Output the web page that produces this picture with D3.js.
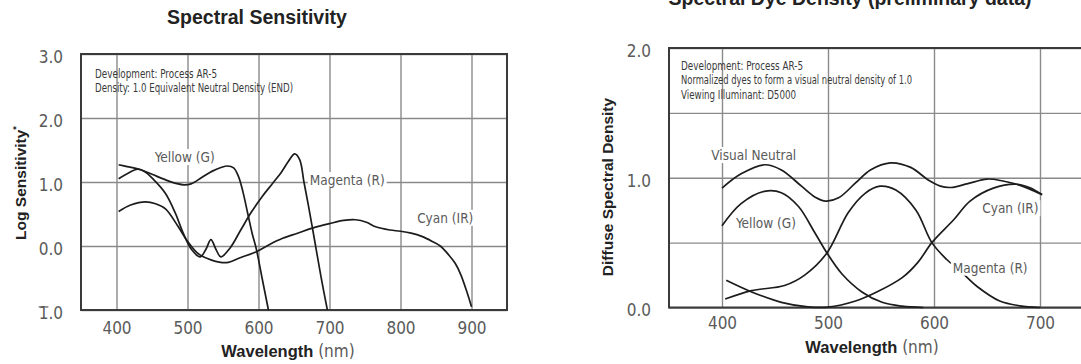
<!DOCTYPE html>
<html><head><meta charset="utf-8">
<script src="https://cdn.jsdelivr.net/npm/d3@7"></script>
<style>
body{margin:0;background:#fff;}
svg{display:block;}
</style></head><body>
<svg id="c" width="1081" height="364"></svg>
<script>
// ---------- DATA ----------
// Left: Spectral Sensitivity (log sensitivity vs wavelength nm)
const sensXTicks = [400, 500, 600, 700, 800, 900];
const sensYTicks = [-1, 0, 1, 2, 3];
const sensYellow = [[403,1.27],[415,1.24],[432,1.2],[450,1.12],[470,1.03],[485,0.975],[495,0.955],[505,0.97],[520,1.07],[535,1.17],[548,1.23],[556,1.25],[565,1.22],[572,1.08],[578,0.85],[585,0.5],[591,0.2],[597,-0.05],[605,-0.5],[614,-1.0]];
const sensMagenta = [[403,1.05],[415,1.13],[430,1.2],[440,1.16],[452,1.04],[469,0.82],[483,0.51],[494,0.2],[506,-0.06],[518,-0.17],[526,-0.05],[533,0.1],[540,-0.05],[547,-0.17],[560,-0.03],[575,0.25],[590,0.53],[605,0.77],[620,0.98],[632,1.15],[642,1.32],[651,1.44],[658,1.35],[664,1.0],[670,0.65],[679,0.09],[688,-0.48],[697,-1.0]];
const sensCyan = [[403,0.54],[420,0.64],[441,0.69],[455,0.66],[469,0.58],[487,0.3],[499,0.09],[515,-0.12],[534,-0.22],[555,-0.26],[575,-0.18],[597,-0.09],[615,0.02],[634,0.12],[655,0.2],[676,0.28],[700,0.35],[720,0.4],[737,0.41],[752,0.37],[765,0.3],[785,0.25],[800,0.23],[815,0.2],[830,0.15],[845,0.07],[856,0.0],[868,-0.14],[877,-0.27],[885,-0.45],[893,-0.7],[900,-0.95]];
const sensLabels = ["Yellow (G)", "Magenta (R)", "Cyan (IR)"];
const sensNotes = ["Development: Process AR-5", "Density: 1.0 Equivalent Neutral Density (END)"];

// Right: Spectral Dye Density (diffuse spectral density vs wavelength nm)
const dyeXTicks = [400, 500, 600, 700];
const dyeYTicks = [0, 0.5, 1, 1.5, 2];
const dyeNeutral = [[400,0.92],[418,1.03],[440,1.10],[456,1.06],[475,0.935],[488,0.85],[498,0.82],[510,0.845],[526,0.96],[540,1.06],[559,1.115],[578,1.08],[595,0.98],[606,0.935],[616,0.925],[632,0.955],[650,0.99],[665,0.975],[680,0.945],[702,0.87]];
const dyeYellow = [[400,0.63],[418,0.8],[440,0.895],[456,0.885],[472,0.78],[488,0.57],[499,0.42],[513,0.26],[532,0.12],[551,0.04],[570,0.01],[590,0.0]];
const dyeMagenta = [[403,0.065],[428,0.13],[459,0.17],[478,0.25],[499,0.42],[519,0.73],[535,0.88],[549,0.935],[564,0.905],[583,0.75],[598,0.5],[612,0.37],[625,0.28],[641,0.16],[662,0.05],[681,0.013],[700,0.0]];
const dyeCyan = [[404,0.21],[428,0.12],[456,0.04],[481,0.005],[500,0.003],[526,0.05],[545,0.115],[570,0.23],[585,0.35],[598,0.5],[619,0.68],[634,0.82],[656,0.92],[678,0.95],[690,0.925],[702,0.87]];
const dyeLabels = ["Visual Neutral", "Yellow (G)", "Cyan (IR)", "Magenta (R)"];
const dyeNotes = ["Development: Process AR-5", "Normalized dyes to form a visual neutral density of 1.0", "Viewing Illuminant: D5000"];

// ---------- DRAWING ----------
const svg = d3.select("#c");
const FC = '"Liberation Sans Narrow","DejaVu Sans Condensed","Roboto Condensed",sans-serif';
const FB = '"Liberation Sans",Arial,Helvetica,sans-serif';
const GRID = "#8a8a8a", FRAME = "#3a3a3a", INK = "#1c1c1c", LBL = "#5a5a5a";

function panel(o) {
  const g = svg.append("g");
  const [x0, x1] = o.x.range(), [y0, y1] = o.y.range();
  // vertical grid + x tick labels
  const ax = g.append("g").attr("transform", `translate(0,${y0})`)
    .call(d3.axisBottom(o.x).tickValues(o.xTicks).tickSize(-(y0 - y1)).tickPadding(o.xPad).tickFormat(d3.format("d")));
  ax.select(".domain").remove();
  ax.selectAll("line").attr("stroke", GRID).attr("stroke-width", 1.4);
  ax.selectAll("text").attr("fill", LBL).style("font-family", FC).style("font-size", "17px");
  // horizontal grid + y tick labels
  const ay = g.append("g").attr("transform", `translate(${x0},0)`)
    .call(d3.axisLeft(o.y).tickValues(o.yTicks).tickSize(-(x1 - x0)).tickPadding(18).tickFormat(o.yFmt));
  ay.select(".domain").remove();
  ay.selectAll("line").attr("stroke", GRID).attr("stroke-width", 1.4);
  ay.selectAll("text").attr("fill", LBL).style("font-family", FC).style("font-size", "17px")
    .attr("transform", "translate(0,3)");
  if (o.overlineNeg) {
    ay.selectAll(".tick").filter(d => d < 0).each(function() {
      const t = d3.select(this).select("text");
      const bb = t.node().getBBox();
      const w1 = t.node().getSubStringLength(0, 1);
      d3.select(this).append("line")
        .attr("x1", bb.x).attr("x2", bb.x + w1)
        .attr("y1", bb.y + 4).attr("y2", bb.y + 4)
        .attr("transform", "translate(0,3)")
        .attr("stroke", LBL).attr("stroke-width", 1.2);
    });
  }
  // frame
  g.append("rect").attr("x", x0).attr("y", y1).attr("width", x1 - x0).attr("height", y0 - y1)
    .attr("fill", "none").attr("stroke", FRAME).attr("stroke-width", 2);
  // curves
  const line = d3.line().x(d => o.x(d[0])).y(d => o.y(d[1])).curve(d3.curveCatmullRom.alpha(0.5));
  o.series.forEach(s => g.append("path").datum(s).attr("d", line)
    .attr("fill", "none").attr("stroke", INK).attr("stroke-width", 1.7).attr("stroke-linejoin", "round"));
  // series labels with white background
  o.labels.forEach((txt, i) => {
    const p = o.labelPos[i];
    const lg = g.append("g");
    const t = lg.append("text").attr("x", o.x(p[0])).attr("y", o.y(p[1]))
      .attr("text-anchor", "middle").attr("dominant-baseline", "central")
      .attr("fill", LBL).style("font-family", FC).style("font-size", "13.5px").text(txt);
    const bb = t.node().getBBox();
    lg.insert("rect", "text").attr("x", bb.x - 2).attr("y", bb.y).attr("width", bb.width + 4).attr("height", bb.height)
      .attr("fill", "#fff");
  });
  // notes
  o.notes.forEach((txt, i) => {
    g.append("text").attr("x", o.noteX).attr("y", o.noteY + i * 14.3)
      .attr("textLength", o.noteLen[i]).attr("lengthAdjust", "spacingAndGlyphs")
      .attr("fill", "#3a3a3a").style("font-family", FC).style("font-size", "11.5px").text(txt);
  });
  // title
  g.append("text").attr("x", o.titleX).attr("y", o.titleY).attr("text-anchor", "middle")
    .attr("fill", "#222").style("font-family", FB).style("font-weight", "bold").style("font-size", "19.5px")
    .text(o.title);
  // y axis title
  const yt = g.append("text").attr("transform", `translate(${o.ytX},${o.ytY}) rotate(-90)`)
    .attr("text-anchor", "middle").attr("dominant-baseline", "central")
    .attr("fill", "#222").style("font-family", FB).style("font-weight", "bold").style("font-size", "15.5px");
  yt.append("tspan").text(o.ytitle);
  if (o.ytStar) yt.append("tspan").attr("dy", "-0.5em").style("font-size", "9px").text("*");
  // x axis title
  const xt = g.append("text").attr("x", o.xtX).attr("y", o.xtY).attr("text-anchor", "middle");
  xt.append("tspan").attr("fill", "#222").style("font-family", FB).style("font-weight", "bold").style("font-size", "16.5px").text("Wavelength");
  xt.append("tspan").attr("fill", LBL).style("font-family", FC).style("font-size", "17px").text(" (nm)");
}

const xL = d3.scaleLinear().domain([350, 950]).range([81, 507]);
const yL = d3.scaleLinear().domain([-1, 3]).range([310, 54]);
panel({
  x: xL, y: yL, xTicks: sensXTicks, yTicks: sensYTicks, xPad: 12,
  yFmt: d => d < 0 ? "1.0" : d3.format(".1f")(d), overlineNeg: true,
  series: [sensYellow, sensMagenta, sensCyan],
  labels: sensLabels, labelPos: [[496, 1.39], [725, 1.03], [863, 0.44]],
  notes: sensNotes, noteX: 95, noteY: 77.5, noteLen: [122, 198],
  title: "Spectral Sensitivity", titleX: 257, titleY: 24,
  ytitle: "Log Sensitivity", ytStar: true, ytX: 20, ytY: 183,
  xtX: 288, xtY: 357
});

const xR = d3.scaleLinear().domain([350, 750]).range([669, 1093]);
const yR = d3.scaleLinear().domain([0, 2]).range([307.5, 48]);
panel({
  x: xR, y: yR, xTicks: dyeXTicks, yTicks: dyeYTicks, xPad: 9.5,
  yFmt: d => (d % 1 === 0) ? d3.format(".1f")(d) : "", overlineNeg: false,
  series: [dyeNeutral, dyeYellow, dyeMagenta, dyeCyan],
  labels: dyeLabels, labelPos: [[430, 1.175], [441.5, 0.654], [672, 0.765], [653, 0.307]],
  notes: dyeNotes, noteX: 681, noteY: 70, noteLen: [122, 231, 115],
  title: "Spectral Dye Density (preliminary data)", titleX: 850, titleY: 5,
  ytitle: "Diffuse Spectral Density", ytStar: false, ytX: 607, ytY: 187,
  xtX: 872, xtY: 353
});
</script>
</body></html>
